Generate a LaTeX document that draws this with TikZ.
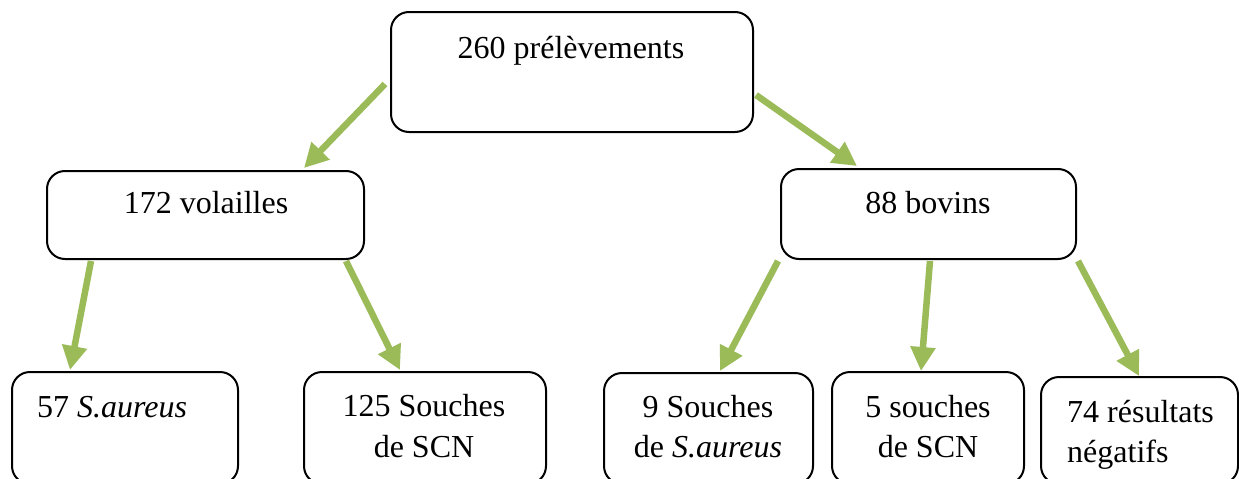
\documentclass[tikz,border=0pt]{standalone}
\usepackage{fontspec}
\setmainfont{Liberation Serif}
\usetikzlibrary{arrows.meta}
\definecolor{leaf}{RGB}{155,187,89}
\begin{document}
\begin{tikzpicture}[x=1pt,y=-1pt,
  box/.style={draw=black,line width=2pt,rounded corners=18pt,minimum width=#1,inner sep=0pt,fill=white},
  txt/.style={inner sep=0pt,font=\fontsize{32}{40.5}\selectfont},
  arr/.style={draw=leaf,line width=6.5pt,-{Triangle[length=24pt,width=24pt]},fill=leaf}]
\useasboundingbox (0,0) rectangle (1239,479);
\clip (0,0) rectangle (1239,479);
\fill[white] (0,0) rectangle (1239,479);

% boxes
\node[box=362pt,minimum height=120pt] (top) at (572,72) {};
\node[box=317pt,minimum height=88pt] (vol) at (205.5,215) {};
\node[box=295pt,minimum height=90pt] (bov) at (928.5,214) {};
\node[box=226pt,minimum height=112pt] (b1) at (125,428) {};
\node[box=242pt,minimum height=112pt] (b2) at (425,428) {};
\node[box=209pt,minimum height=111pt] (b3) at (708.5,428.5) {};
\node[box=192pt,minimum height=112pt] (b4) at (928,428) {};
\node[box=197pt,minimum height=107pt] (b5) at (1139.5,430.5) {};

% texts (base anchor = baseline of the last line)
\node[txt,anchor=base] (ttop) at (571,58) {260 prélèvements};
\node[txt,anchor=base] (tvol) at (206,213) {172 volailles};
\node[txt,anchor=base] (tbov) at (928,213) {88 bovins};
\node[txt,anchor=base west] (tb1) at (37,417) {57 \textit{S.aureus}};
\node[txt,anchor=base,align=center] (tb2) at (424,457) {125 Souches\\de SCN};
\node[txt,anchor=base,align=center] (tb3) at (708,457.5) {9 Souches\\de \textit{S.aureus}};
\node[txt,anchor=base,align=center] (tb4) at (928,457.5) {5 souches\\de SCN};
\node[txt,anchor=base west,align=left] (tb5) at (1067,462.5) {74 résultats\\négatifs};

% connectors
\draw[arr] ([shift={(-5,12)}]top.west) -- ([shift={(98.5,-2)}]vol.north);
\draw[arr] ([shift={(2,23)}]top.east) -- ([shift={(-71.5,-2)}]bov.north);
\draw[arr] ([shift={(45,1)}]vol.south west) -- ([shift={(-55,-1)}]b1.north);
\draw[arr] ([shift={(-19,1)}]vol.south east) -- ([shift={(-25,-1)}]b2.north);
\draw[arr] ([shift={(-2,1)}]bov.south west) -- ([shift={(11.5,-1)}]b3.north);
\draw[arr] ([shift={(1.5,1)}]bov.south) -- ([shift={(-7,0)}]b4.north);
\draw[arr] ([shift={(1,1)}]bov.south east) -- ([shift={(-0.5,0)}]b5.north);
\end{tikzpicture}
\end{document}
